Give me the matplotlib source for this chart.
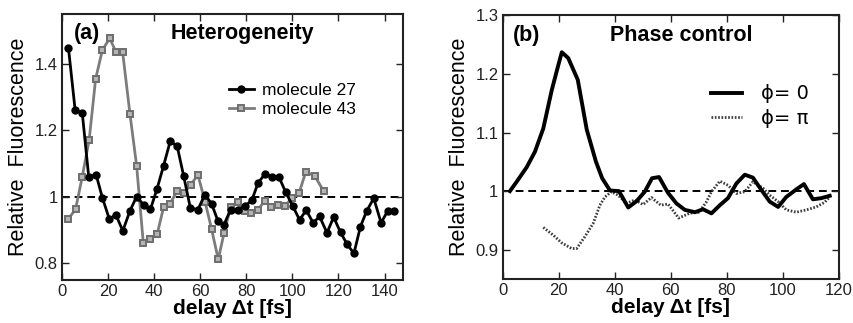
import matplotlib.pyplot as plt
from matplotlib.ticker import FormatStrFormatter

plt.rcParams['font.family'] = ['Liberation Sans', 'DejaVu Sans']

# (a) heterogeneity
t27 = [2.8, 5.7, 8.8, 11.6, 14.8, 17.5, 20.6, 23.3, 26.4, 29.5, 32.4, 35.4, 38.4,
       41.2, 44.1, 47.0, 50.0, 52.8, 55.7, 58.9, 62.0, 64.9, 67.7, 70.2, 73.2,
       76.3, 79.4, 82.4, 85.1, 88.2, 91.2, 94.2, 97.1, 100.1, 103.1, 106.0, 109.0,
       111.8, 115.0, 117.9, 120.9, 123.8, 126.7, 129.5, 132.2, 135.3, 138.5,
       141.3, 144.3]
f27 = [1.448, 1.261, 1.252, 1.060, 1.067, 0.998, 0.932, 0.947, 0.898, 0.958, 1.001,
       0.976, 0.963, 1.023, 1.094, 1.168, 1.152, 1.063, 0.967, 0.961, 1.006, 0.980,
       0.927, 0.915, 0.962, 0.961, 0.972, 0.990, 1.042, 1.070, 1.060, 1.059, 1.014,
       0.973, 0.931, 0.960, 0.922, 0.941, 0.892, 0.939, 0.893, 0.857, 0.830, 0.910,
       0.957, 0.996, 0.922, 0.957, 0.958]

t43 = [2.7, 5.9, 8.8, 11.8, 14.6, 17.5, 20.7, 23.4, 26.3, 29.5, 32.4, 35.3, 38.4,
       41.3, 44.1, 47.0, 50.0, 52.9, 55.8, 59.0, 62.1, 64.9, 67.8, 70.3, 73.2,
       76.2, 79.3, 82.2, 85.1, 88.0, 90.9, 93.8, 96.7, 100.0, 102.9, 105.8, 109.7,
       113.6]
f43 = [0.933, 0.963, 1.061, 1.172, 1.355, 1.441, 1.477, 1.436, 1.436, 1.249, 1.093,
       0.860, 0.872, 0.888, 0.969, 0.980, 1.019, 1.011, 1.036, 1.066, 0.985, 0.904,
       0.812, 0.890, 0.970, 0.985, 0.957, 0.951, 0.962, 0.988, 0.969, 0.976, 0.974,
       0.996, 1.012, 1.075, 1.063, 1.017]

# (b) phase control
t_phi0 = [2.6, 5.0, 8.6, 11.5, 14.5, 17.5, 19.8, 21.1, 23.4, 26.8, 30.0, 33.3, 35.5,
          38.3, 41.5, 44.8, 47.8, 50.7, 53.3, 55.8, 59.0, 62.0, 65.0, 68.6, 71.5,
          74.5, 77.5, 80.4, 83.4, 86.4, 89.3, 92.3, 95.3, 98.3, 101.2, 104.8,
          107.5, 110.7, 113.7, 116.7]
f_phi0 = [1.000, 1.016, 1.041, 1.067, 1.107, 1.172, 1.214, 1.237, 1.227, 1.190,
          1.105, 1.050, 1.022, 1.001, 1.000, 0.972, 0.983, 0.999, 1.022, 1.024,
          0.997, 0.979, 0.968, 0.964, 0.969, 0.962, 0.976, 0.988, 1.013, 1.028,
          1.023, 1.002, 0.982, 0.973, 0.990, 1.003, 1.012, 0.986, 0.988, 0.992]

t_phipi = [14.5, 18.0, 21.0, 24.6, 26.4, 29.3, 32.3, 34.7, 36.5, 38.8, 41.2, 44.2,
           47.2, 50.1, 53.1, 56.4, 59.0, 62.8, 66.6, 70.0, 72.5, 74.5, 77.5, 80.4,
           83.4, 86.4, 89.3, 92.9, 95.3, 98.3, 101.2, 104.8, 108.4, 111.9, 114.9,
           116.7]
f_phipi = [0.938, 0.925, 0.912, 0.902, 0.902, 0.922, 0.945, 0.976, 0.990, 0.999,
           0.993, 0.979, 0.985, 0.977, 0.989, 0.976, 0.978, 0.954, 0.962, 0.964,
           0.980, 0.999, 1.017, 1.010, 0.996, 0.999, 1.016, 1.005, 0.993, 0.982,
           0.968, 0.964, 0.968, 0.973, 0.981, 0.990]

fig = plt.figure(figsize=(8.54, 3.23), dpi=100)
ax1 = fig.add_axes([0.0726, 0.1331, 0.3993, 0.8236])
ax2 = fig.add_axes([0.5886, 0.1362, 0.3938, 0.8164])

ax1.axhline(1.0, color='black', ls=(0, (4, 2.5)), lw=1.4, zorder=1)
ax1.plot(t43, f43, color='#7c7c7c', lw=2.0, marker='s', ms=5,
         mfc='#b4b4b4', mec='#6e6e6e', mew=1.4, label='molecule 43', zorder=2)
ax1.plot(t27, f27, color='black', lw=2.0, marker='o', ms=5,
         label='molecule 27', zorder=3)
ax1.set_xlim(0, 148)
ax1.set_ylim(0.75, 1.55)
ax1.set_xticks([0, 20, 40, 60, 80, 100, 120, 140])
ax1.set_yticks([0.8, 1.0, 1.2, 1.4])
ax1.yaxis.set_major_formatter(FormatStrFormatter('%g'))
h, l = ax1.get_legend_handles_labels()
ax1.legend(h[::-1], l[::-1], loc='upper left', bbox_to_anchor=(0.465, 0.775),
           frameon=False, fontsize=12.5, handlelength=1.4, handletextpad=0.5,
           labelspacing=0.25, borderpad=0)
ax1.text(0.035, 0.965, '(a)', transform=ax1.transAxes, fontsize=15.5,
         fontweight='bold', va='top')
ax1.text(0.53, 0.965, 'Heterogeneity', transform=ax1.transAxes, fontsize=15.5,
         fontweight='bold', va='top', ha='center')

ax2.axhline(1.0, color='black', ls=(0, (4, 2.5)), lw=1.4, zorder=1)
ax2.plot(t_phi0, f_phi0, color='black', lw=2.8, label='\u03d5= 0', zorder=3)
ax2.plot(t_phipi, f_phipi, color='#3c3c3c', lw=2.0, ls=(0, (0.6, 0.6)),
         label='\u03d5= \u03c0', zorder=2)
ax2.set_xlim(0, 120)
ax2.set_ylim(0.85, 1.3)
ax2.set_xticks([0, 20, 40, 60, 80, 100, 120])
ax2.set_yticks([0.9, 1.0, 1.1, 1.2, 1.3])
ax2.yaxis.set_major_formatter(FormatStrFormatter('%g'))
ax2.legend(loc='upper left', bbox_to_anchor=(0.59, 0.775), frameon=False,
           handlelength=1.6, handletextpad=1.0, labelspacing=0.3,
           borderpad=0, prop={'family': ['DejaVu Sans'], 'size': 14})
ax2.text(0.03, 0.965, '(b)', transform=ax2.transAxes, fontsize=15.5,
         fontweight='bold', va='top')
ax2.text(0.53, 0.965, 'Phase control', transform=ax2.transAxes, fontsize=15.5,
         fontweight='bold', va='top', ha='center')

for ax in (ax1, ax2):
    ax.set_xlabel('delay \u0394t [fs]', fontsize=15, fontweight='bold', labelpad=0)
    ax.set_ylabel('Relative  Fluorescence', fontsize=15.5, labelpad=4)
    ax.tick_params(direction='in', top=True, right=True, length=5, width=1,
                   labelsize=12, pad=3, colors='#222222')
    for s in ax.spines.values():
        s.set_linewidth(1.5)
        s.set_color('#222222')

fig.savefig('out.png', dpi=100)
